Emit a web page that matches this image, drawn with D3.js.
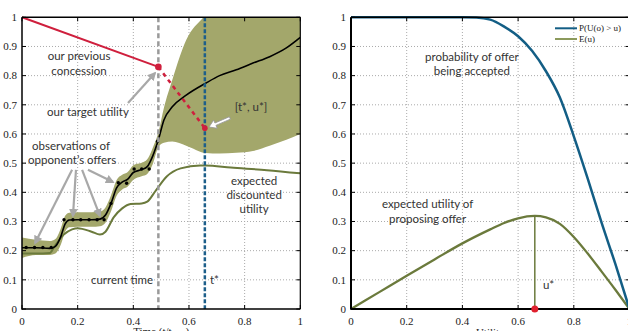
<!DOCTYPE html>
<html><head><meta charset="utf-8">
<script src="https://cdn.jsdelivr.net/npm/d3@7"></script>
<style>body{margin:0;background:#fff}svg{display:block}</style>
</head><body>
<svg id="c" width="628" height="331"></svg>
<script>
// ---------------- data ----------------
const xTickVals = [0, 0.2, 0.4, 0.6, 0.8, 1];
const xTickLabels = ["0", "0.2", "0.4", "0.6", "0.8", "1"];
const yTickVals = [0, 0.1, 0.2, 0.3, 0.4, 0.5, 0.6, 0.7, 0.8, 0.9, 1];
const yTickLabels = ["0", "0.1", "0.2", "0.3", "0.4", "0.5", "0.6", "0.7", "0.8", "0.9", "1"];

// Gaussian-process prediction of opponent concession (left chart)
const gpTime = [0, 0.05, 0.1, 0.12, 0.14, 0.155, 0.17, 0.2, 0.25, 0.28, 0.3, 0.32, 0.34, 0.36, 0.38, 0.4, 0.43, 0.45, 0.47, 0.49, 0.51, 0.54, 0.59, 0.66, 0.71, 0.77, 0.83, 0.89, 0.95, 1.0];
const gpMean = [0.21, 0.21, 0.208, 0.215, 0.25, 0.292, 0.305, 0.306, 0.306, 0.308, 0.322, 0.362, 0.415, 0.435, 0.445, 0.468, 0.478, 0.488, 0.525, 0.58, 0.648, 0.693, 0.733, 0.774, 0.80, 0.82, 0.843, 0.865, 0.895, 0.931];
const gpLow  = [0.175, 0.185, 0.185, 0.19, 0.222, 0.265, 0.28, 0.282, 0.282, 0.284, 0.296, 0.335, 0.388, 0.41, 0.42, 0.443, 0.455, 0.463, 0.497, 0.555, 0.57, 0.574, 0.56, 0.535, 0.533, 0.536, 0.542, 0.56, 0.58, 0.60];
const gpHigh = [0.245, 0.237, 0.233, 0.24, 0.278, 0.32, 0.33, 0.332, 0.332, 0.334, 0.348, 0.39, 0.442, 0.46, 0.47, 0.493, 0.501, 0.513, 0.553, 0.605, 0.69, 0.785, 0.922, 1.01, 1.08, 1.15, 1.2, 1.25, 1.28, 1.3];

// observed opponent offers
const obsTime = [0.015, 0.045, 0.075, 0.105, 0.151, 0.183, 0.211, 0.241, 0.27, 0.295, 0.32, 0.346, 0.376, 0.403, 0.43, 0.457, 0.487];
const obsUtil = [0.211, 0.211, 0.211, 0.211, 0.306, 0.306, 0.306, 0.306, 0.306, 0.306, 0.362, 0.433, 0.431, 0.48, 0.48, 0.48, 0.575];

// expected discounted utility
const edTime = [0, 0.05, 0.1, 0.117, 0.15, 0.18, 0.2, 0.25, 0.28, 0.3, 0.33, 0.36, 0.39, 0.43, 0.45, 0.48, 0.52, 0.57, 0.64, 0.66, 0.75, 0.88, 1.0];
const edUtil = [0.19, 0.19, 0.192, 0.215, 0.255, 0.273, 0.277, 0.265, 0.255, 0.265, 0.315, 0.345, 0.36, 0.362, 0.368, 0.405, 0.454, 0.482, 0.492, 0.492, 0.485, 0.476, 0.465];

// our concession
const concessionTime = [0, 0.49];
const concessionUtil = [1, 0.83];
const targetTime = [0.49, 0.657];
const targetUtil = [0.83, 0.62];
const currentTime = 0.49;
const tStar = 0.657;

// right chart
const uGrid = [0, 0.1, 0.2, 0.3, 0.4, 0.45, 0.5, 0.55, 0.6, 0.65, 0.7, 0.75, 0.8, 0.85, 0.9, 0.95, 1.0];
const pAccept = [1, 1, 1, 1, 1, 0.999, 0.992, 0.968, 0.935, 0.885, 0.815, 0.725, 0.592, 0.447, 0.295, 0.152, 0];
const uGridE = [0, 0.1, 0.2, 0.3, 0.4, 0.5, 0.55, 0.6, 0.66, 0.7, 0.75, 0.8, 0.85, 0.9, 0.95, 1.0];
const expUtil = [0, 0.057, 0.114, 0.17, 0.225, 0.273, 0.295, 0.311, 0.319, 0.314, 0.292, 0.247, 0.19, 0.128, 0.065, 0];
const uStar = 0.66;
const uStarValue = 0.319;

// ---------------- drawing ----------------
const svg = d3.select("#c");
const serif = "'Liberation Serif','Times New Roman',serif";
const sans = "Lato,'Open Sans',sans-serif";
const annColor = "#333";
const annSize = 11.5;

const yL = d3.scaleLinear().domain([0, 1]).range([309, 17.3]);
const xL = d3.scaleLinear().domain([0, 1]).range([22, 300.3]);
const xR = d3.scaleLinear().domain([0, 1]).range([351, 629.5]);

const defs = svg.append("defs");
defs.append("clipPath").attr("id", "clipL").append("rect")
  .attr("x", xL(0)).attr("y", yL(1)).attr("width", xL(1) - xL(0)).attr("height", yL(0) - yL(1));
const mk = defs.append("marker").attr("id", "ahGray").attr("viewBox", "0 0 10 10")
  .attr("refX", 8).attr("refY", 5).attr("markerWidth", 4).attr("markerHeight", 4)
  .attr("orient", "auto").attr("markerUnits", "strokeWidth");
mk.append("path").attr("d", "M0,0 L10,5 L0,10 z").attr("fill", "#a8a8a8");

function frame(x, y) {
  const g = svg.append("g");
  xTickVals.slice(1, -1).forEach(v => g.append("line")
    .attr("x1", x(v)).attr("x2", x(v)).attr("y1", y(0)).attr("y2", y(1))
    .attr("stroke", "#aaa").attr("stroke-width", 1).attr("stroke-dasharray", "1,2"));
  yTickVals.slice(1, -1).forEach(v => g.append("line")
    .attr("x1", x(0)).attr("x2", x(1)).attr("y1", y(v)).attr("y2", y(v))
    .attr("stroke", "#aaa").attr("stroke-width", 1).attr("stroke-dasharray", "1,2"));
  return g;
}
function axes(x, y, thick) {
  const g = svg.append("g");
  yTickVals.forEach(v => {
    g.append("line").attr("x1", x(0)).attr("x2", x(0) + 4).attr("y1", y(v)).attr("y2", y(v)).attr("stroke", "#000");
    g.append("line").attr("x1", x(1)).attr("x2", x(1) - 4).attr("y1", y(v)).attr("y2", y(v)).attr("stroke", "#000");
  });
  xTickVals.forEach(v => {
    g.append("line").attr("x1", x(v)).attr("x2", x(v)).attr("y1", y(1)).attr("y2", y(1) + 4).attr("stroke", "#000");
    g.append("line").attr("x1", x(v)).attr("x2", x(v)).attr("y1", y(0)).attr("y2", y(0) - 4).attr("stroke", "#000");
  });
  g.append("line").attr("x1", x(0)).attr("x2", x(1)).attr("y1", y(1)).attr("y2", y(1)).attr("stroke", "#000").attr("stroke-width", 1.5);
  g.append("line").attr("x1", x(1)).attr("x2", x(1)).attr("y1", y(0)).attr("y2", y(1)).attr("stroke", "#000").attr("stroke-width", 1.2);
  g.append("line").attr("x1", x(0)).attr("x2", x(0)).attr("y1", y(0) + 0.8).attr("y2", y(1)).attr("stroke", "#000").attr("stroke-width", thick);
  g.append("line").attr("x1", x(0)).attr("x2", x(1)).attr("y1", y(0)).attr("y2", y(0)).attr("stroke", "#000").attr("stroke-width", thick);
  yTickVals.forEach((v, i) => g.append("text").attr("x", x(0) - 5).attr("y", y(v) + 3.8)
    .attr("text-anchor", "end").attr("font-family", serif).attr("font-size", 11).attr("fill", "#222").text(yTickLabels[i]));
  xTickVals.forEach((v, i) => g.append("text").attr("x", x(v)).attr("y", y(0) + 15.5)
    .attr("text-anchor", "middle").attr("font-family", serif).attr("font-size", 11).attr("fill", "#222").text(xTickLabels[i]));
  return g;
}

// ---------- left chart ----------
frame(xL, yL);
const gL = svg.append("g").attr("clip-path", "url(#clipL)");
const band = d3.area().x((d, i) => xL(gpTime[i])).y0((d, i) => yL(gpLow[i])).y1((d, i) => yL(gpHigh[i])).curve(d3.curveMonotoneX);
gL.append("path").attr("d", band(gpTime)).attr("fill", "#a3a76b");
const lineL = (ts, vs) => d3.line().x((d, i) => xL(ts[i])).y((d, i) => yL(vs[i])).curve(d3.curveMonotoneX)(ts);
gL.append("path").attr("d", lineL(edTime, edUtil)).attr("fill", "none").attr("stroke", "#6b7a3c").attr("stroke-width", 2);
gL.append("path").attr("d", lineL(gpTime, gpMean)).attr("fill", "none").attr("stroke", "#000").attr("stroke-width", 1.6);
obsTime.forEach((t, i) => gL.append("circle").attr("cx", xL(t)).attr("cy", yL(obsUtil[i])).attr("r", 1.7).attr("fill", "#000"));

svg.append("line").attr("x1", xL(currentTime)).attr("x2", xL(currentTime)).attr("y1", yL(1)).attr("y2", yL(0))
  .attr("stroke", "#9a9a9a").attr("stroke-width", 2.5).attr("stroke-dasharray", "5,3");
svg.append("line").attr("x1", xL(tStar)).attr("x2", xL(tStar)).attr("y1", yL(1)).attr("y2", yL(0))
  .attr("stroke", "#1d5f8a").attr("stroke-width", 2.5).attr("stroke-dasharray", "4,2");

const red = "#cf1f3d";
svg.append("path").attr("d", lineL(concessionTime, concessionUtil)).attr("stroke", red).attr("stroke-width", 2).attr("fill", "none");
svg.append("path").attr("d", lineL(targetTime, targetUtil)).attr("stroke", red).attr("stroke-width", 2.5).attr("stroke-dasharray", "4,4").attr("fill", "none");
svg.append("circle").attr("cx", xL(concessionTime[1])).attr("cy", yL(concessionUtil[1])).attr("r", 3.3).attr("fill", red);
svg.append("circle").attr("cx", xL(targetTime[1])).attr("cy", yL(targetUtil[1])).attr("r", 2.8).attr("fill", red);

axes(xL, yL, 1.5);

function txt(x, y, s, anchor) {
  svg.append("text").attr("x", x).attr("y", y).attr("text-anchor", anchor || "middle")
    .attr("font-family", sans).attr("font-size", annSize).attr("fill", annColor).text(s);
}
txt(xL(0.205), yL(0.854), "our previous");
txt(xL(0.205), yL(0.802), "concession");
txt(xL(0.237), yL(0.662), "our target utility");
txt(xL(0.176), yL(0.544), "observations of");
txt(xL(0.18), yL(0.497), "opponent\u2019s offers");
txt(xL(0.823), yL(0.679), "[t*, u*]");
txt(xL(0.834), yL(0.425), "expected");
txt(xL(0.834), yL(0.377), "discounted");
txt(xL(0.834), yL(0.329), "utility");
txt(xL(0.471), yL(0.0857), "current time", "end");
txt(xL(0.6755), yL(0.0857), "t*", "start");

const arrows = [
  [0.18, 0.477, 0.047, 0.226],
  [0.194, 0.477, 0.183, 0.319],
  [0.216, 0.477, 0.28, 0.319],
  [0.237, 0.477, 0.327, 0.435],
  [0.381, 0.706, 0.478, 0.809]
];
arrows.forEach(a => svg.append("line").attr("x1", xL(a[0])).attr("y1", yL(a[1])).attr("x2", xL(a[2])).attr("y2", yL(a[3]))
  .attr("stroke", "#a8a8a8").attr("stroke-width", 2.2).attr("marker-end", "url(#ahGray)"));
{
  const x1 = xL(0.747), y1 = yL(0.655), x2 = xL(0.672), y2 = yL(0.624);
  const ang = Math.atan2(y2 - y1, x2 - x1);
  const len = Math.hypot(x2 - x1, y2 - y1);
  const g = svg.append("g").attr("transform", `translate(${x1},${y1}) rotate(${ang * 180 / Math.PI})`);
  g.append("path").attr("d", `M0,-1.3 L${len - 7},-1.3 L${len - 7},-4.5 L${len},0 L${len - 7},4.5 L${len - 7},1.3 L0,1.3 Z`)
    .attr("fill", "#fff").attr("stroke", "#999").attr("stroke-width", 0.8);
}

{
  const t = svg.append("text").attr("x", xL(0.5)).attr("y", 335).attr("text-anchor", "middle")
    .attr("font-family", serif).attr("font-size", 11).attr("fill", "#222");
  t.append("tspan").text("Time (t/t");
  t.append("tspan").attr("font-size", 8).attr("dy", 2).text("max");
  t.append("tspan").attr("dy", -2).text(")");
}

// ---------- right chart ----------
frame(xR, yL);
const lineR = (us, vs) => d3.line().x((d, i) => xR(us[i])).y((d, i) => yL(vs[i])).curve(d3.curveMonotoneX)(us);
svg.append("path").attr("d", lineR(uGridE, expUtil)).attr("fill", "none").attr("stroke", "#6b7a3c").attr("stroke-width", 2.3);
svg.append("line").attr("x1", xR(uStar)).attr("x2", xR(uStar)).attr("y1", yL(0)).attr("y2", yL(uStarValue))
  .attr("stroke", "#6b7a3c").attr("stroke-width", 1.5);
svg.append("path").attr("d", lineR(uGrid, pAccept)).attr("fill", "none").attr("stroke", "#135e85").attr("stroke-width", 2.5);
axes(xR, yL, 2);
svg.append("circle").attr("cx", xR(uStar)).attr("cy", yL(0)).attr("r", 3.5).attr("fill", "#e0202e");

function txtR(u, v, s, anchor) {
  svg.append("text").attr("x", xR(u)).attr("y", yL(v)).attr("text-anchor", anchor || "middle")
    .attr("font-family", sans).attr("font-size", annSize).attr("fill", annColor).text(s);
}
txtR(0.434, 0.849, "probability of offer");
txtR(0.434, 0.802, "being accepted");
txtR(0.275, 0.346, "expected utility of");
txtR(0.275, 0.295, "proposing offer");
txtR(0.689, 0.0686, "u*", "start");

const legend = [["P(U(o) > u)", "#135e85"], ["E(u)", "#8c9a5c"]];
legend.forEach((d, i) => {
  const yy = 28.3 + i * 10.7;
  svg.append("line").attr("x1", 555).attr("x2", 577).attr("y1", yy).attr("y2", yy).attr("stroke", d[1]).attr("stroke-width", 2);
  svg.append("text").attr("x", 579).attr("y", yy + 3).attr("font-family", serif).attr("font-size", 9).attr("fill", "#222").text(d[0]);
});

svg.append("text").attr("x", xR(0.5)).attr("y", 336).attr("text-anchor", "middle")
  .attr("font-family", serif).attr("font-size", 11).attr("fill", "#222").text("Utility");
</script>
</body></html>
